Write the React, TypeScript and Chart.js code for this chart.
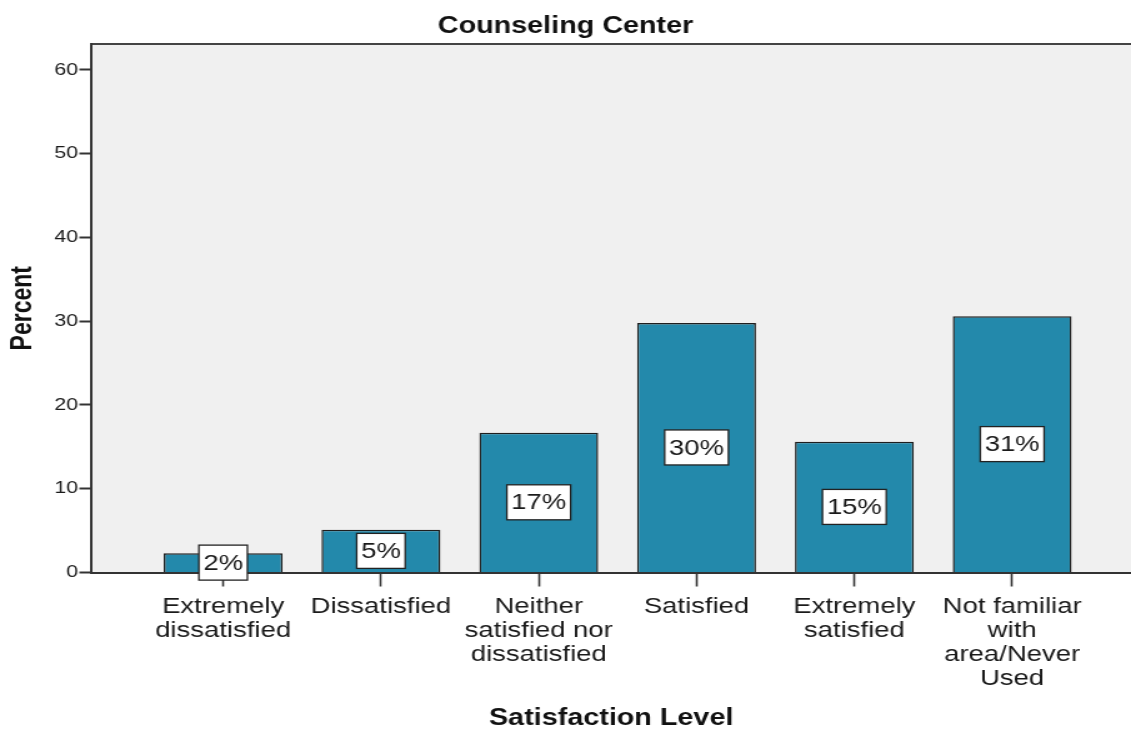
import React, { useEffect, useRef } from "react";
import { Chart, registerables } from "chart.js";

Chart.register(...registerables);

// ---- data ----
const categories: string[][] = [
  ["Extremely", "dissatisfied"],
  ["Dissatisfied"],
  ["Neither", "satisfied nor", "dissatisfied"],
  ["Satisfied"],
  ["Extremely", "satisfied"],
  ["Not familiar", "with", "area/Never", "Used"],
];
const categoryPositions = [1, 2, 3, 4, 5, 6];
const percentValues = [2.3, 5.1, 16.7, 29.8, 15.6, 30.6];
const valueLabels = ["2%", "5%", "17%", "30%", "15%", "31%"];
const yTicks = [0, 10, 20, 30, 40, 50, 60];

const FAMILY = "'Liberation Sans', Arial, Helvetica, sans-serif";
const INTERNAL_W = 905;
const INTERNAL_H = 729;

const plotFrame = {
  id: "plotFrame",
  beforeDraw(chart: any) {
    const { ctx, chartArea } = chart;
    const { left, top, right, bottom } = chartArea;
    ctx.save();
    ctx.fillStyle = "#f0f0f0";
    ctx.fillRect(left, top, right - left, bottom - top);
    ctx.strokeStyle = "#444";
    ctx.lineWidth = 2;
    ctx.beginPath();
    ctx.moveTo(left, top);
    ctx.lineTo(right, top);
    ctx.stroke();
    ctx.restore();
  },
};

const valueBoxes = {
  id: "valueBoxes",
  afterDraw(chart: any) {
    const { ctx } = chart;
    const meta = chart.getDatasetMeta(0);
    ctx.save();
    ctx.font = `22px ${FAMILY}`;
    meta.data.forEach((bar: any, i: number) => {
      const { x, y, base } = bar.getProps(["x", "y", "base"], true);
      const cy = (y + base) / 2;
      const text = valueLabels[i];
      const w = ctx.measureText(text).width + 7;
      const h = 35;
      ctx.fillStyle = "#ffffff";
      ctx.fillRect(x - w / 2, cy - h / 2, w, h);
      ctx.strokeStyle = "#222";
      ctx.lineWidth = 1.3;
      ctx.strokeRect(x - w / 2, cy - h / 2, w, h);
      ctx.fillStyle = "#1a1a1a";
      ctx.textAlign = "center";
      ctx.textBaseline = "middle";
      ctx.fillText(text, x, cy + 1);
    });
    ctx.restore();
  },
};

export default function App() {
  const ref = useRef<HTMLCanvasElement | null>(null);

  useEffect(() => {
    document.body.style.margin = "0";
    const canvas = ref.current;
    if (!canvas) return;
    Chart.defaults.font.family = FAMILY;
    const chart = new Chart(canvas, {
      type: "bar",
      data: {
        datasets: [
          {
            data: percentValues.map((v, i) => ({ x: categoryPositions[i], y: v })),
            backgroundColor: "#2389ab",
            borderColor: "#1e1e1e",
            borderWidth: 1.5,
            categoryPercentage: 1,
            barPercentage: 0.753,
          },
        ],
      },
      options: {
        responsive: false,
        animation: false,
        devicePixelRatio: 1,
        layout: { padding: { left: 0, right: 0, top: 0, bottom: 0 } },
        plugins: {
          legend: { display: false },
          tooltip: { enabled: false },
          title: {
            display: true,
            text: "Counseling Center",
            color: "#111",
            font: { size: 23, weight: "bold", family: FAMILY },
            padding: { top: 13, bottom: 3.4 },
          },
        },
        scales: {
          x: {
            type: "linear",
            offset: false,
            min: 0.165,
            max: 6.753,
            afterBuildTicks: (s: any) => {
              s.ticks = categoryPositions.map((v) => ({ value: v }));
            },
            border: { display: true, color: "#333", width: 2 },
            grid: {
              offset: false,
              drawOnChartArea: false,
              drawTicks: true,
              tickLength: 14,
              tickColor: "#333",
              tickWidth: 1.6,
            },
            ticks: {
              autoSkip: false,
              maxRotation: 0,
              minRotation: 0,
              padding: 8,
              color: "#1a1a1a",
              font: { size: 22, family: FAMILY, lineHeight: 24 / 22 },
              callback: (_v: any, i: number) => categories[i],
            },
            title: {
              display: true,
              text: "Satisfaction Level",
              color: "#111",
              font: { size: 23, weight: "bold", family: FAMILY, lineHeight: 1 },
              padding: { top: 9, bottom: -1.5 },
            },
          },
          y: {
            min: 0,
            max: 63.1,
            afterBuildTicks: (s: any) => {
              s.ticks = yTicks.map((v) => ({ value: v }));
            },
            border: { display: true, color: "#333", width: 2 },
            grid: {
              drawOnChartArea: false,
              drawTicks: true,
              tickLength: 9.6,
              tickColor: "#333",
              tickWidth: 2,
            },
            ticks: {
              padding: 1,
              color: "#1a1a1a",
              font: { size: 17, family: FAMILY },
            },
            title: {
              display: true,
              text: "Percent",
              color: "#111",
              font: { size: 23, weight: "bold", family: FAMILY },
              padding: { top: 5, bottom: 10 },
            },
          },
        },
      } as any,
      plugins: [plotFrame, valueBoxes],
    });
    return () => chart.destroy();
  }, []);

  return (
    <div style={{ width: 1131, height: 729, overflow: "hidden" }}>
      <canvas
        ref={ref}
        width={INTERNAL_W}
        height={INTERNAL_H}
        style={{ width: "1131px", height: "729px", display: "block" }}
      />
    </div>
  );
}
